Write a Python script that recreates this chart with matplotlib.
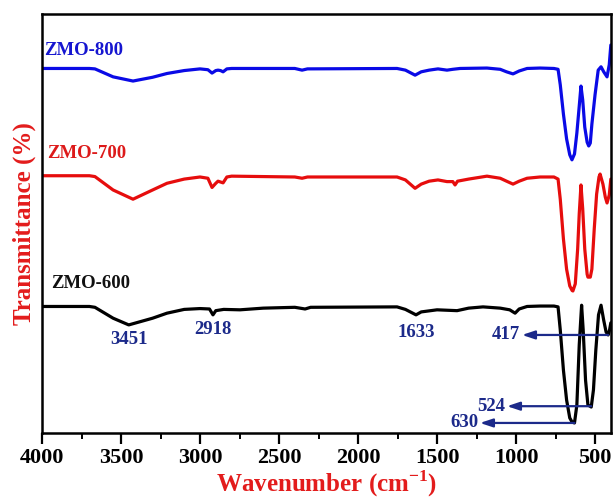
import matplotlib
matplotlib.use('Agg')
import matplotlib.pyplot as plt
from matplotlib.ticker import MultipleLocator

# FTIR spectra, transmittance in arbitrary units (curves offset for clarity)
wn_800 = [4000, 3700, 3665, 3550, 3424, 3300, 3209, 3100, 3000, 2950, 2924, 2900,
          2886, 2870, 2854, 2830, 2800, 2400, 2354, 2320, 1753, 1700, 1639, 1600,
          1550, 1494, 1437, 1400, 1354, 1184, 1100, 1060, 1019, 980, 930, 848, 760,
          734, 720, 700, 680, 660, 646, 630, 615, 600, 589, 578, 565, 550, 540, 530,
          520, 500, 480, 462, 445, 424, 410, 400]
tr_800 = [87.0, 87.0, 86.9, 85.0, 84.0, 84.9, 85.8, 86.5, 86.9, 86.7, 85.9, 86.5,
          86.6, 86.5, 86.2, 86.9, 87.0, 87.0, 86.6, 86.9, 87.0, 86.6, 85.4, 86.2,
          86.6, 86.9, 86.6, 86.8, 87.0, 87.1, 86.8, 86.2, 85.7, 86.4, 87.0, 87.1, 87.0,
          86.8, 83.1, 76.1, 70.2, 66.4, 65.2, 66.6, 71.6, 78.0, 82.8, 79.5, 73.0, 69.4,
          68.5, 69.2, 73.7, 80.7, 86.6, 87.4, 86.2, 85.0, 87.9, 92.6]

wn_700 = [4000, 3700, 3665, 3550, 3424, 3300, 3209, 3100, 3000, 2950, 2924, 2900,
          2886, 2870, 2854, 2830, 2800, 2400, 2354, 2320, 1753, 1700, 1639, 1600,
          1550, 1494, 1437, 1400, 1386, 1370, 1300, 1184, 1100, 1060, 1019, 980, 930,
          848, 760, 734, 720, 700, 680, 660, 645, 640, 625, 610, 600, 589, 578, 565,
          550, 545, 530, 520, 505, 490, 475, 468, 450, 435, 424, 410, 400]
tr_700 = [61.4, 61.4, 61.2, 58.0, 55.8, 58.0, 59.6, 60.6, 61.1, 60.8, 58.6, 59.6,
          60.1, 59.9, 59.7, 61.1, 61.3, 61.1, 60.8, 61.1, 61.1, 60.4, 58.4, 59.4,
          60.1, 60.4, 60.0, 60.0, 59.2, 60.1, 60.6, 61.3, 60.8, 60.1, 59.4, 60.1, 60.8,
          61.1, 61.1, 60.6, 55.8, 46.3, 39.1, 35.1, 34.0, 33.9, 35.6, 43.9, 52.3, 59.2,
          53.5, 43.9, 37.9, 37.2, 37.2, 39.1, 48.7, 57.0, 61.1, 61.8, 59.4, 56.3, 54.9,
          56.8, 60.6]

wn_600 = [4000, 3700, 3665, 3550, 3451, 3300, 3209, 3100, 3000, 2940, 2918, 2900,
          2850, 2747, 2600, 2400, 2335, 2300, 1753, 1700, 1633, 1600, 1500, 1373,
          1300, 1209, 1100, 1040, 1006, 980, 930, 848, 760, 734, 720, 700, 680, 660,
          645, 630, 615, 600, 585, 575, 560, 545, 524, 510, 495, 478, 462, 445, 430,
          417, 408, 400]
tr_600 = [30.2, 30.2, 30.0, 27.4, 25.8, 27.4, 28.6, 29.5, 29.7, 29.6, 28.2, 29.2,
          29.5, 29.4, 29.8, 30.0, 29.6, 30.0, 30.1, 29.5, 28.2, 28.9, 29.4, 29.2,
          29.8, 30.1, 29.8, 29.4, 28.6, 29.6, 30.2, 30.3, 30.3, 30.1, 24.6, 15.0, 7.9,
          3.6, 2.6, 2.4, 6.7, 21.0, 30.5, 24.6, 12.6, 6.7, 6.2, 10.3, 19.8, 28.2, 30.5,
          26.9, 24.1, 23.4, 24.6, 26.3]

series_names = ['ZMO-800', 'ZMO-700', 'ZMO-600']
series_colors = ['#0a0ae6', '#e60d0d', '#000000']
label_colors = ['#1515d0', '#dd1a1a', '#111111']
label_pos = [(3985, 91.4), (3965, 66.6), (3940, 35.6)]

# band assignments written under / beside the ZMO-600 curve
band_text = ['3451', '2918', '1633']
band_text_pos = [(3451, 22.4), (2918, 24.6), (1633, 24.1)]
arrow_bands = [417, 524, 630]
arrow_y = [23.4, 6.4, 2.4]
arrow_head = [962, 1057, 1228]

navy = '#1c2a8a'
red = '#e31c1c'

plt.rcParams['font.family'] = ['Liberation Serif', 'DejaVu Serif']
plt.rcParams['font.weight'] = 'bold'
plt.rcParams['mathtext.fontset'] = 'custom'
plt.rcParams['mathtext.rm'] = 'Liberation Serif:bold'
plt.rcParams['mathtext.bf'] = 'Liberation Serif:bold'

fig = plt.figure(figsize=(6.14, 4.98), dpi=100)
ax = fig.add_axes([0.0684, 0.1305, 0.9267, 0.8414])

for wn, tr, c in zip([wn_800, wn_700, wn_600], [tr_800, tr_700, tr_600], series_colors):
    ax.plot(wn, tr, color=c, lw=2.3, solid_joinstyle='round', solid_capstyle='round')

for name, c, (x, y) in zip(series_names, label_colors, label_pos):
    ax.text(x, y, name, color=c, fontsize=13.5, fontweight='bold', ha='left', va='center')

for t, (x, y) in zip(band_text, band_text_pos):
    ax.text(x, y, t, color=navy, fontsize=13.5, fontweight='bold', ha='center', va='center')

for band, y, head in zip(arrow_bands, arrow_y, arrow_head):
    ax.annotate('', xy=(head, y), xytext=(band, y),
                arrowprops=dict(arrowstyle='-|>,head_length=0.75,head_width=0.25',
                                color=navy, lw=1.6, mutation_scale=10,
                                shrinkA=0, shrinkB=0))
    ax.text(head + 10, y, str(band), color=navy, fontsize=13.5, fontweight='bold',
            ha='right', va='center')

ax.set_xlim(4000, 399)
ax.set_ylim(0, 100)
ax.xaxis.set_major_locator(MultipleLocator(500))
ax.xaxis.set_minor_locator(MultipleLocator(250))
ax.set_yticks([])
ax.tick_params(axis='x', which='major', direction='out', length=8, width=1.6,
               labelsize=16, pad=3)
ax.tick_params(axis='x', which='minor', direction='out', length=4, width=1.4)
for lbl in ax.get_xticklabels():
    lbl.set_fontweight('bold')
for sp in ax.spines.values():
    sp.set_linewidth(1.8)

ax.set_xlabel('Wavenumber (cm$^{-1}$)', color=red, fontsize=18, fontweight='bold',
              labelpad=0)
ax.set_ylabel('Transmittance (%)', color=red, fontsize=18, fontweight='bold',
              labelpad=4)

fig.savefig('out.png', dpi=100)
